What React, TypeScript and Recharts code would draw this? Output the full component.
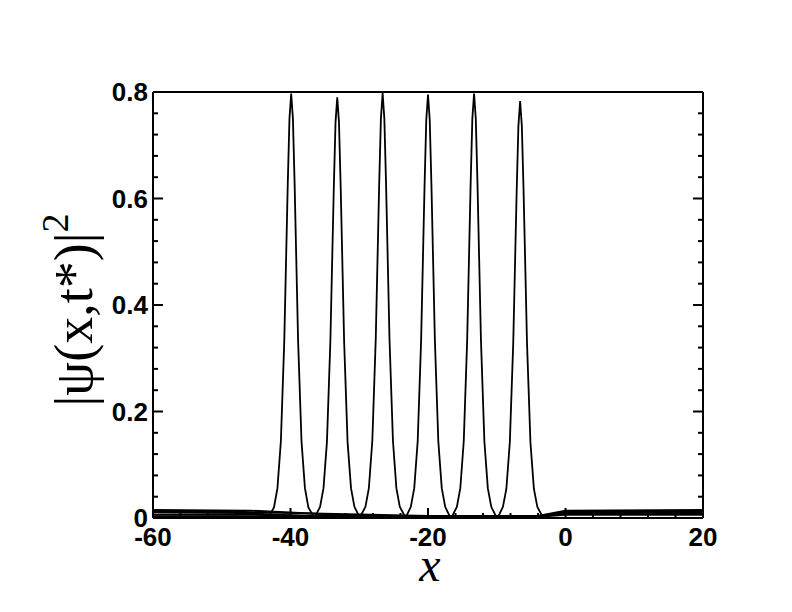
import { LineChart, Line, XAxis, YAxis } from 'recharts';

const curve1X = [-60, -47, -43.1, -42.4, -41.9, -41.4, -40.9, -40.4, -40.15, -39.9, -39.65, -39.4, -38.9, -38.4, -37.9, -37.4, -36.7, -4, 0, 20];
const curve1Y = [0.013, 0.012, 0.004, 0.02, 0.056, 0.144, 0.335, 0.627, 0.75, 0.797, 0.75, 0.627, 0.335, 0.144, 0.056, 0.02, 0.004, 0.003, 0.012, 0.013];

const curve2X = [-60, -47, -36.4, -35.7, -35.2, -34.7, -34.2, -33.7, -33.45, -33.2, -32.95, -32.7, -32.2, -31.7, -31.2, -30.7, -30.0, -4, 0, 20];
const curve2Y = [0.01, 0.009, 0.003, 0.021, 0.056, 0.143, 0.332, 0.621, 0.743, 0.79, 0.743, 0.621, 0.332, 0.143, 0.056, 0.021, 0.003, 0.003, 0.009, 0.01];

const curve3X = [-60, -46, -29.8, -29.1, -28.6, -28.1, -27.6, -27.1, -26.85, -26.6, -26.35, -26.1, -25.6, -25.1, -24.6, -24.1, -23.4, -4, 0, 20];
const curve3Y = [0.015, 0.014, 0.004, 0.021, 0.056, 0.145, 0.336, 0.627, 0.75, 0.798, 0.75, 0.627, 0.336, 0.145, 0.056, 0.021, 0.004, 0.004, 0.014, 0.015];

const curve4X = [-60, -46, -23.2, -22.5, -22, -21.5, -21, -20.5, -20.25, -20, -19.75, -19.5, -19, -18.5, -18, -17.5, -16.8, -4, 0, 20];
const curve4Y = [0.006, 0.006, 0.002, 0.021, 0.056, 0.144, 0.334, 0.625, 0.748, 0.795, 0.748, 0.625, 0.334, 0.144, 0.056, 0.021, 0.002, 0.002, 0.006, 0.006];

const curve5X = [-60, -46, -16.5, -15.8, -15.3, -14.8, -14.3, -13.8, -13.55, -13.3, -13.05, -12.8, -12.3, -11.8, -11.3, -10.8, -10.1, -4, 0, 20];
const curve5Y = [0.012, 0.011, 0.003, 0.021, 0.056, 0.144, 0.335, 0.627, 0.75, 0.797, 0.75, 0.627, 0.335, 0.144, 0.056, 0.021, 0.003, 0.004, 0.011, 0.012];

const curve6X = [-60, -46, -9.8, -9.1, -8.6, -8.1, -7.6, -7.1, -6.85, -6.6, -6.35, -6.1, -5.6, -5.1, -4.6, -4.1, -3.4, 0, 20];
const curve6Y = [0.003, 0.003, 0.002, 0.021, 0.055, 0.142, 0.329, 0.615, 0.736, 0.783, 0.736, 0.615, 0.329, 0.142, 0.055, 0.021, 0.004, 0.008, 0.009];

const xTicks = [-60, -56, -52, -48, -44, -40, -36, -32, -28, -24, -20, -16, -12, -8, -4, 0, 4, 8, 12, 16, 20];
const xMajorLabels: Record<string, string> = { '-60': '-60', '-40': '-40', '-20': '-20', '0': '0', '20': '20' };
const yTicks = [0, 0.04, 0.08, 0.12, 0.16, 0.2, 0.24, 0.28, 0.32, 0.36, 0.4, 0.44, 0.48, 0.52, 0.56, 0.6, 0.64, 0.68, 0.72, 0.76, 0.8];
const yMajorLabels: Record<string, string> = { '0': '0', '0.2': '0.2', '0.4': '0.4', '0.6': '0.6', '0.8': '0.8' };

const curves = [
  [curve1X, curve1Y],
  [curve2X, curve2Y],
  [curve3X, curve3Y],
  [curve4X, curve4Y],
  [curve5X, curve5Y],
  [curve6X, curve6Y],
].map(([xs, ys]) => xs.map((x, i) => ({ x, y: ys[i] })));

const W = 792;
const H = 612;
const TICK_FONT = "'Liberation Sans', Arial, Helvetica, sans-serif";
const SERIF = "'Liberation Serif', 'Times New Roman', serif";

// ticks point into the plot; labels only on the major ones
const makeXTick = (side: 'bottom' | 'top') => (props: any) => {
  const { x, y, payload } = props;
  const label = xMajorLabels[String(payload.value)];
  const len = label !== undefined ? 10 : 5;
  const dir = side === 'bottom' ? -1 : 1;
  return (
    <g>
      <line x1={x} x2={x} y1={y} y2={y + dir * len} stroke="#000" strokeWidth={2} />
      {side === 'bottom' && label !== undefined && (
        <text x={x} y={y + 28} textAnchor="middle" fontFamily={TICK_FONT} fontWeight="bold" fontSize={26} fill="#000">
          {label}
        </text>
      )}
    </g>
  );
};

const makeYTick = (side: 'left' | 'right') => (props: any) => {
  const { x, y, payload } = props;
  const label = yMajorLabels[String(payload.value)];
  const len = label !== undefined ? 10 : 5;
  const dir = side === 'left' ? 1 : -1;
  return (
    <g>
      <line x1={x} x2={x + dir * len} y1={y} y2={y} stroke="#000" strokeWidth={2} />
      {side === 'left' && label !== undefined && (
        <text x={x - 5} y={y + 9} textAnchor="end" fontFamily={TICK_FONT} fontWeight="bold" fontSize={26} fill="#000">
          {label}
        </text>
      )}
    </g>
  );
};

const axisLine = { stroke: '#000', strokeWidth: 2 };

export default function App() {
  return (
    <div style={{ position: 'absolute', left: 0, top: 0, width: W, height: H, background: '#fff' }}>
      <LineChart width={W} height={H} margin={{ top: 91, right: 88, bottom: 93, left: 152 }}>
        <XAxis
          xAxisId="bottom"
          type="number"
          dataKey="x"
          domain={[-60, 20]}
          ticks={xTicks}
          interval={0}
          height={1}
          tickSize={0}
          tickMargin={0}
          tickLine={false}
          axisLine={axisLine}
          tick={makeXTick('bottom')}
          allowDataOverflow
        />
        <XAxis
          xAxisId="top"
          orientation="top"
          type="number"
          domain={[-60, 20]}
          ticks={xTicks}
          interval={0}
          height={1}
          tickSize={0}
          tickMargin={0}
          tickLine={false}
          axisLine={axisLine}
          tick={makeXTick('top')}
          allowDataOverflow
        />
        <YAxis
          yAxisId="left"
          type="number"
          domain={[0, 0.8]}
          ticks={yTicks}
          interval={0}
          width={1}
          tickSize={0}
          tickMargin={0}
          tickLine={false}
          axisLine={axisLine}
          tick={makeYTick('left')}
          allowDataOverflow
        />
        <YAxis
          yAxisId="right"
          orientation="right"
          type="number"
          domain={[0, 0.8]}
          ticks={yTicks}
          interval={0}
          width={1}
          tickSize={0}
          tickMargin={0}
          tickLine={false}
          axisLine={axisLine}
          tick={makeYTick('right')}
          allowDataOverflow
        />
        {curves.map((data, i) => (
          <Line
            key={i}
            xAxisId="bottom"
            yAxisId="left"
            data={data}
            dataKey="y"
            type="linear"
            stroke="#000"
            strokeWidth={1.8}
            dot={false}
            activeDot={false}
            isAnimationActive={false}
          />
        ))}
      </LineChart>
      <svg width={W} height={H} style={{ position: 'absolute', left: 0, top: 0, pointerEvents: 'none' }}>
        <text
          x={92}
          y={310}
          transform="rotate(-90, 92, 310)"
          textAnchor="middle"
          fontFamily={SERIF}
          fontSize={54}
          fill="#000"
        >
          |ψ(x,t*)|<tspan dy={-24} fontSize={38}>2</tspan>
        </text>
        <text x={430} y={581} textAnchor="middle" fontFamily={SERIF} fontStyle="italic" fontSize={48} fill="#000">
          x
        </text>
      </svg>
    </div>
  );
}
